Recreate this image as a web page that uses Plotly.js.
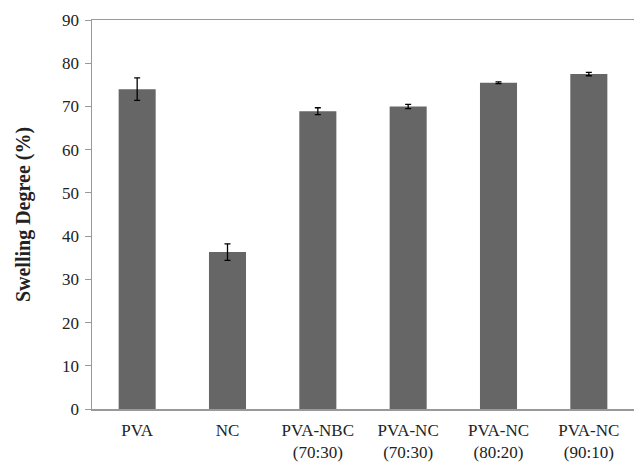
<!DOCTYPE html>
<html>
<head>
<meta charset="utf-8">
<script src="https://cdn.plot.ly/plotly-3.0.1.min.js"></script>
<style>html,body{margin:0;padding:0;background:#fff;}#chart{width:634px;height:463px;}</style>
</head>
<body>
<div id="chart"></div>
<script>
const categories = ["PVA", "NC", "PVA-NBC<br>(70:30)", "PVA-NC<br>(70:30)", "PVA-NC<br>(80:20)", "PVA-NC<br>(90:10)"];
const swelling = [74.0, 36.3, 68.9, 70.0, 75.5, 77.5];
const errors = [2.6, 1.9, 0.8, 0.5, 0.2, 0.4];
const yTicks = [0, 10, 20, 30, 40, 50, 60, 70, 80, 90];

const trace = {
  type: "bar",
  x: categories,
  y: swelling,
  width: 0.41,
  marker: {color: "#666666", line: {width: 0}},
  error_y: {type: "data", array: errors, visible: true, color: "#000000", thickness: 1.3, width: 3}
};

const layout = {
  width: 634, height: 463,
  margin: {l: 92, r: 0, t: 20, b: 54},
  paper_bgcolor: "#ffffff",
  plot_bgcolor: "#ffffff",
  showlegend: false,
  font: {family: "Liberation Serif, Times New Roman, serif", size: 17, color: "#222222"},
  xaxis: {
    showline: true, linecolor: "#999999", linewidth: 1.5,
    mirror: true, ticks: "", showgrid: false,
    ticklabelstandoff: 5,
    tickfont: {size: 17, color: "#222222"}
  },
  yaxis: {
    range: [0, 90], tickvals: yTicks, showgrid: false,
    showline: true, linecolor: "#999999", linewidth: 1.5, mirror: false,
    ticks: "outside", ticklen: 6, tickcolor: "#999999", tickwidth: 1,
    tickfont: {size: 17, color: "#222222"},
    ticklabelstandoff: 2,
    title: {text: "<b>Swelling Degree (%)</b>", font: {size: 20, color: "#222222"}, standoff: 26},
    zeroline: false
  },
  bargap: 0.59
};

Plotly.newPlot("chart", [trace], layout, {displayModeBar: false, staticPlot: true});
</script>
</body>
</html>
